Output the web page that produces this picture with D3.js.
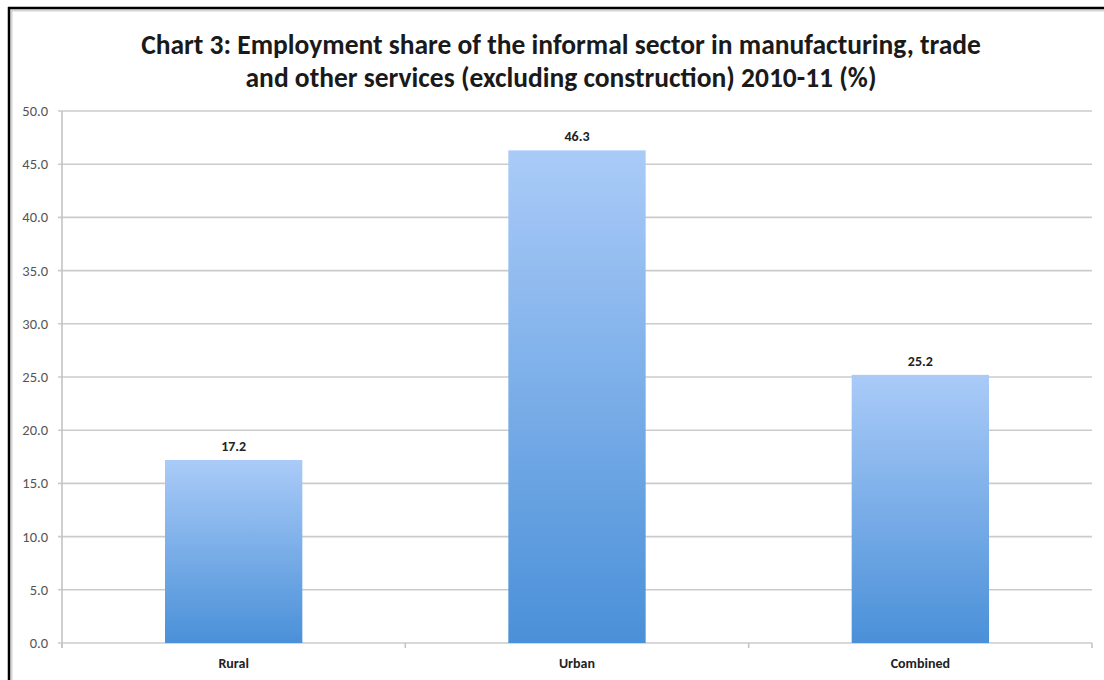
<!DOCTYPE html>
<html>
<head>
<meta charset="utf-8">
<script src="https://cdn.jsdelivr.net/npm/d3@7/dist/d3.min.js"></script>
<style>
  html, body { margin: 0; padding: 0; background: #fff; }
  svg { display: block; }
</style>
</head>
<body>
<svg id="chart" width="1104" height="680"></svg>
<script>
// Chart data
const categories = ["Rural", "Urban", "Combined"];
const shares = [17.2, 46.3, 25.2];
const yTicks = [0, 5, 10, 15, 20, 25, 30, 35, 40, 45, 50];
const titleLines = [
  "Chart 3: Employment share of the informal sector in manufacturing, trade",
  "and other services (excluding construction) 2010-11 (%)"
];

const W = 1104, H = 680;
const margin = { left: 62, right: 12, top: 111, bottom: 37 };
const svg = d3.select("#chart");
const font = "Carlito, 'Open Sans', Lato, sans-serif";

// Outer frame: black edge with a soft grey inner line
svg.append("line").attr("x1", 11).attr("x2", W).attr("y1", 10.5).attr("y2", 10.5)
  .attr("stroke", "#d4d4d4").attr("stroke-width", 2);
svg.append("line").attr("x1", 11.5).attr("x2", 11.5).attr("y1", 10).attr("y2", H)
  .attr("stroke", "#d4d4d4").attr("stroke-width", 2);
svg.append("line").attr("x1", 8).attr("x2", W).attr("y1", 8).attr("y2", 8)
  .attr("stroke", "#000").attr("stroke-width", 2.5);
svg.append("line").attr("x1", 9).attr("x2", 9).attr("y1", 7).attr("y2", H)
  .attr("stroke", "#000").attr("stroke-width", 2.5);

// Title
const title = svg.append("text")
  .attr("text-anchor", "middle")
  .attr("font-family", font)
  .attr("font-weight", "bold")
  .attr("font-size", 27.5)
  .attr("fill", "#1a1a1a");
titleLines.forEach((t, i) => {
  title.append("tspan").attr("x", 561).attr("y", 54 + i * 33).text(t);
});

// Scales
const x = d3.scaleBand()
  .domain(categories)
  .range([margin.left, W - margin.right])
  .paddingInner(0.6)
  .paddingOuter(0.3);
const xBand = d3.scaleBand()
  .domain(categories)
  .range([margin.left, W - margin.right]);
const y = d3.scaleLinear().domain([0, 50]).range([H - margin.bottom, margin.top]);

// Bar gradient
const defs = svg.append("defs");
const grad = defs.append("linearGradient")
  .attr("id", "barGrad").attr("x1", 0).attr("x2", 0).attr("y1", 0).attr("y2", 1);
grad.append("stop").attr("offset", "0%").attr("stop-color", "#aacbf8");
grad.append("stop").attr("offset", "100%").attr("stop-color", "#4a90d8");

// Gridlines
svg.append("g")
  .selectAll("line")
  .data(yTicks)
  .join("line")
  .attr("x1", margin.left - 4)
  .attr("x2", W - margin.right)
  .attr("y1", d => y(d))
  .attr("y2", d => y(d))
  .attr("stroke", "#cbcbcb")
  .attr("stroke-width", 1.6);

// Y axis line and labels
svg.append("line")
  .attr("x1", margin.left).attr("x2", margin.left)
  .attr("y1", y(50)).attr("y2", y(0) + 5)
  .attr("stroke", "#c4c4c4").attr("stroke-width", 1.6);

svg.append("g")
  .selectAll("text")
  .data(yTicks)
  .join("text")
  .attr("x", 48)
  .attr("y", d => y(d) + 5)
  .attr("text-anchor", "end")
  .attr("font-family", font)
  .attr("font-size", 14.5)
  .attr("fill", "#555")
  .text(d => d3.format(".1f")(d));

// X axis tick marks at category boundaries
const bounds = categories.map(c => xBand(c)).concat([W - margin.right]);
svg.append("g")
  .selectAll("line")
  .data(bounds)
  .join("line")
  .attr("x1", d => d).attr("x2", d => d)
  .attr("y1", y(0)).attr("y2", y(0) + 5)
  .attr("stroke", "#c4c4c4").attr("stroke-width", 1.6);

// Bars
svg.append("g")
  .selectAll("rect")
  .data(categories)
  .join("rect")
  .attr("x", d => x(d))
  .attr("width", x.bandwidth())
  .attr("y", (d, i) => y(shares[i]))
  .attr("height", (d, i) => y(0) - y(shares[i]))
  .attr("fill", "url(#barGrad)");

// Value labels
svg.append("g")
  .selectAll("text")
  .data(categories)
  .join("text")
  .attr("x", d => x(d) + x.bandwidth() / 2)
  .attr("y", (d, i) => y(shares[i]) - 9)
  .attr("text-anchor", "middle")
  .attr("font-family", font)
  .attr("font-weight", "bold")
  .attr("font-size", 14)
  .attr("fill", "#222")
  .text((d, i) => d3.format(".1f")(shares[i]));

// Category labels
svg.append("g")
  .selectAll("text")
  .data(categories)
  .join("text")
  .attr("x", d => x(d) + x.bandwidth() / 2)
  .attr("y", 668)
  .attr("text-anchor", "middle")
  .attr("font-family", font)
  .attr("font-weight", "bold")
  .attr("font-size", 14)
  .attr("fill", "#222")
  .text(d => d);
</script>
</body>
</html>
